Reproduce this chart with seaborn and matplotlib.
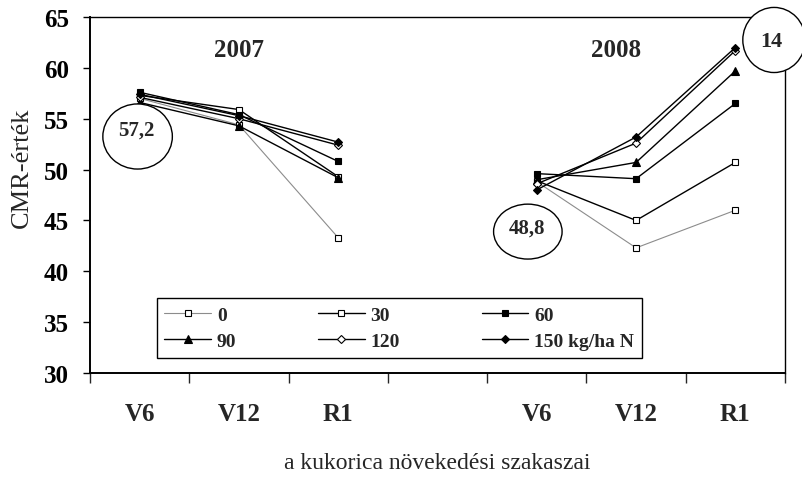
import pandas as pd
import matplotlib
matplotlib.use("Agg")
import matplotlib.pyplot as plt
import seaborn as sns
from matplotlib.lines import Line2D
from matplotlib.patches import Ellipse

# fejlodesi szakaszok es evek
szakaszok = ["V6", "V12", "R1"]
evek = ["2007", "2008"]
adagok = ["0", "30", "60", "90", "120", "150"]

# CMR-ertekek adagonkent: [2007 V6, V12, R1, 2008 V6, V12, R1]
cmr_0 = [57.0, 54.4, 43.3, 48.8, 42.3, 46.0]
cmr_30 = [57.3, 55.9, 49.3, 48.9, 45.0, 50.7]
cmr_60 = [57.6, 55.4, 50.8, 49.6, 49.1, 56.5]
cmr_90 = [56.6, 54.3, 49.2, 49.0, 50.7, 59.7]
cmr_120 = [57.1, 55.0, 52.4, 48.6, 52.6, 61.7]
cmr_150 = [57.4, 55.3, 52.7, 48.0, 53.2, 62.0]

legend_cimkek = ["0", "30", "60", "90", "120", "150 kg/ha N"]

ertekek = [cmr_0, cmr_30, cmr_60, cmr_90, cmr_120, cmr_150]
sorok = []
for adag, lista in zip(adagok, ertekek):
    for i, v in enumerate(lista):
        ev = i // 3
        sz = i % 3
        sorok.append({"adag": adag, "ev": evek[ev], "szakasz": szakaszok[sz],
                      "x": sz + 4 * ev, "cmr": v})
df = pd.DataFrame(sorok)

stilus = {
    "0": dict(color="#8c8c8c", marker="s", mfc="white", lw=0.8),
    "30": dict(color="black", marker="s", mfc="white", lw=1.0),
    "60": dict(color="black", marker="s", mfc="black", lw=1.0),
    "90": dict(color="black", marker="^", mfc="black", lw=1.0),
    "120": dict(color="black", marker="D", mfc="white", lw=1.0),
    "150": dict(color="black", marker="D", mfc="black", lw=1.0),
}
meret = {"s": 5, "^": 6, "D": 4.5}

sns.set_style("ticks")
plt.rcParams["font.family"] = ["Liberation Serif", "DejaVu Serif"]

fig, ax = plt.subplots(figsize=(8.03, 4.81), dpi=100)
fig.subplots_adjust(left=0.112, right=0.9776, top=0.9626, bottom=0.2225)

for adag in adagok:
    s = stilus[adag]
    for ev in evek:
        resz = df[(df["adag"] == adag) & (df["ev"] == ev)]
        sns.lineplot(data=resz, x="x", y="cmr", ax=ax, color=s["color"],
                     linewidth=s["lw"], marker=s["marker"],
                     markersize=meret[s["marker"]], markerfacecolor=s["mfc"],
                     markeredgecolor="black", markeredgewidth=0.8,
                     estimator=None, sort=False, legend=False, zorder=3)

ax.set_xlim(-0.5, 6.5)
ax.set_ylim(30, 65)
ax.set_yticks(range(30, 66, 5))
ax.tick_params(axis="y", direction="out", length=5, width=1, labelsize=18,
               colors="black", pad=10)
for t in ax.get_yticklabels():
    t.set_fontweight("bold")

poz = [sz + 4 * ev for ev in range(2) for sz in range(3)]
ax.set_xticks(poz)
ax.set_xticklabels(szakaszok * 2, fontsize=18, fontweight="bold")
ax.set_xticks([i - 0.5 for i in range(8)], minor=True)
ax.tick_params(axis="x", which="major", length=0, pad=21)
ax.tick_params(axis="x", which="minor", direction="out", length=7, width=1)

ax.set_xlabel("a kukorica növekedési szakaszai", fontsize=17, labelpad=19)
ax.set_ylabel("CMR-érték", fontsize=19)
ax.yaxis.set_label_coords(-0.082, 0.58)

for sp in ["top", "right"]:
    ax.spines[sp].set_visible(True)
    ax.spines[sp].set_linewidth(1.0)
for sp in ["left", "bottom"]:
    ax.spines[sp].set_linewidth(1.4)
for sp in ax.spines.values():
    sp.set_color("black")

ax.text(1.0, 61.8, "2007", ha="center", va="center", fontsize=18,
        fontweight="bold")
ax.text(4.8, 61.8, "2008", ha="center", va="center", fontsize=18,
        fontweight="bold")

# kiemelt ertekek ellipszisben
for (cx, cy, w, h), (tx, ty, szoveg, fs) in [
        ((-0.02, 53.25, 0.70, 6.4), (-0.03, 53.9, "57,2", 15)),
        ((3.91, 43.9, 0.69, 5.4), (3.90, 44.3, "48,8", 15)),
        ((6.39, 62.74, 0.63, 6.4), (6.36, 62.6, "14", 16))]:
    ax.add_patch(Ellipse((cx, cy), w, h, facecolor="white", edgecolor="black",
                         linewidth=1.0, zorder=5, clip_on=False))
    ax.text(tx, ty, szoveg, ha="center", va="center", fontsize=fs,
            fontweight="bold", zorder=6)

handles = []
for adag in adagok:
    s = stilus[adag]
    handles.append(Line2D([], [], color=s["color"], lw=s["lw"],
                          marker=s["marker"], markersize=meret[s["marker"]],
                          markerfacecolor=s["mfc"], markeredgecolor="black",
                          markeredgewidth=0.8))
sorrend = [0, 3, 1, 4, 2, 5]
leg = ax.legend([handles[i] for i in sorrend],
                [legend_cimkek[i] for i in sorrend],
                ncol=3, loc="lower left", mode="expand",
                bbox_to_anchor=(0.096, 0.042, 0.698, 0.188),
                prop={"family": "Liberation Serif", "weight": "bold", "size": 14},
                handlelength=2.4, labelspacing=0.45, borderaxespad=0,
                handletextpad=0.3, frameon=True, fancybox=False)
leg.get_frame().set_edgecolor("black")
leg.get_frame().set_linewidth(1.0)
leg.get_frame().set_alpha(1)
leg.set_zorder(7)

fig.savefig("out.png", dpi=100)
